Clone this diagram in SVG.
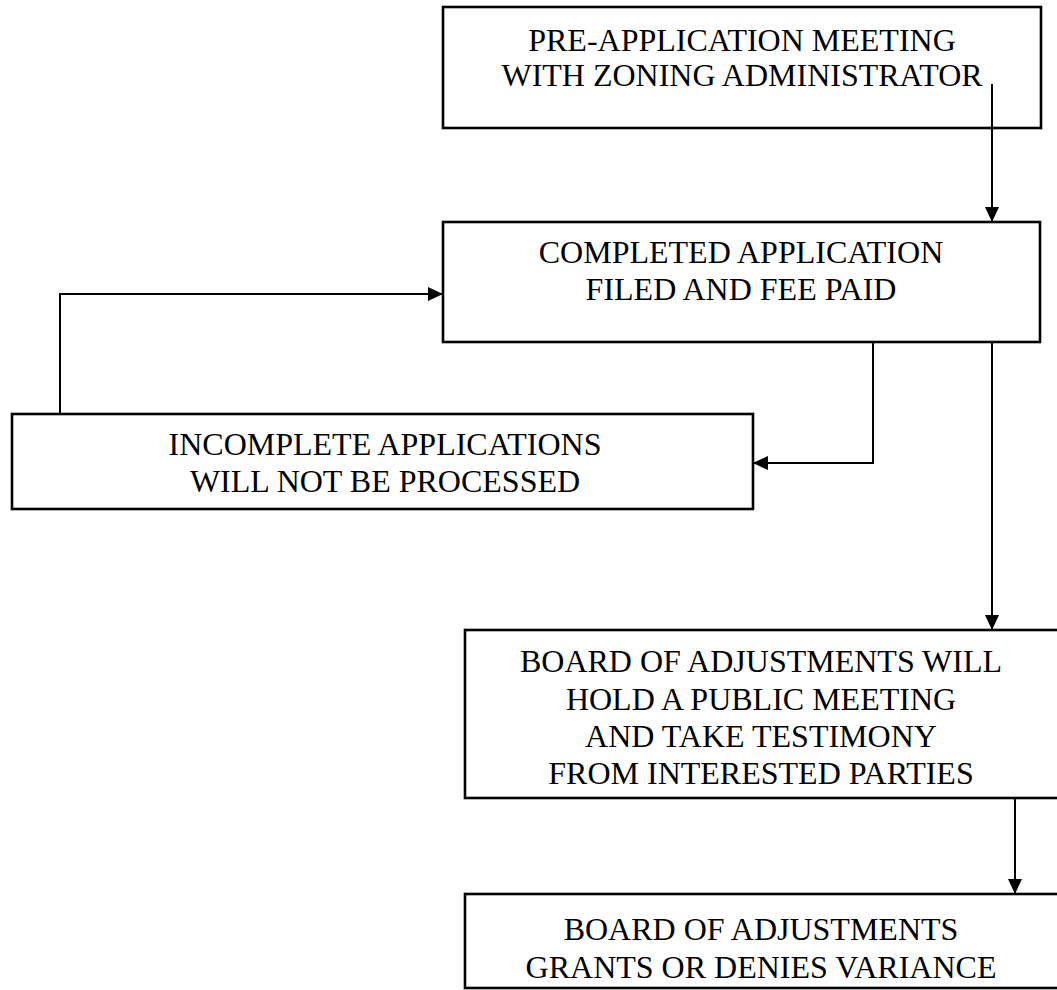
<svg xmlns="http://www.w3.org/2000/svg" width="1057" height="990" viewBox="0 0 1057 990">
  <defs>
    <style>
      .box { fill: #ffffff; stroke: #000000; stroke-width: 2.6; }
      .lbl { font-family: "Liberation Serif", "Times New Roman", serif; font-size: 32px; fill: #000000; text-anchor: middle; }
      .wire { fill: none; stroke: #000000; stroke-width: 2; }
    </style>
    <marker id="arrow" markerWidth="15" markerHeight="14" refX="15" refY="7" orient="auto" markerUnits="userSpaceOnUse">
      <path d="M0,0 L15,7 L0,14 Z" fill="#000000"/>
    </marker>
  </defs>

  <rect x="0" y="0" width="1057" height="990" fill="#ffffff"/>

  <!-- process steps -->
  <g id="pre-application">
    <rect class="box" x="443" y="7" width="598" height="121"/>
    <text class="lbl" x="742" y="51">PRE-APPLICATION MEETING</text>
    <text class="lbl" x="742" y="86">WITH ZONING ADMINISTRATOR</text>
  </g>

  <g id="application-filed">
    <rect class="box" x="443" y="222" width="597" height="120"/>
    <text class="lbl" x="741" y="263">COMPLETED APPLICATION</text>
    <text class="lbl" x="741" y="300">FILED AND FEE PAID</text>
  </g>

  <g id="incomplete">
    <rect class="box" x="12" y="414" width="741" height="95"/>
    <text class="lbl" x="385" y="455">INCOMPLETE APPLICATIONS</text>
    <text class="lbl" x="385" y="492">WILL NOT BE PROCESSED</text>
  </g>

  <g id="public-meeting">
    <rect class="box" x="465" y="630" width="600" height="168"/>
    <text class="lbl" x="761" y="672">BOARD OF ADJUSTMENTS WILL</text>
    <text class="lbl" x="761" y="710">HOLD A PUBLIC MEETING</text>
    <text class="lbl" x="761" y="747">AND TAKE TESTIMONY</text>
    <text class="lbl" x="761" y="784">FROM INTERESTED PARTIES</text>
  </g>

  <g id="decision">
    <rect class="box" x="465" y="894" width="600" height="94"/>
    <text class="lbl" x="761" y="940">BOARD OF ADJUSTMENTS</text>
    <text class="lbl" x="761" y="978">GRANTS OR DENIES VARIANCE</text>
  </g>

  <!-- flow lines -->
  <g id="connectors">
    <path class="wire" d="M992,84 L992,222" marker-end="url(#arrow)"/>
    <path class="wire" d="M60,414 L60,294 L443,294" marker-end="url(#arrow)"/>
    <path class="wire" d="M873,342 L873,463 L753,463" marker-end="url(#arrow)"/>
    <path class="wire" d="M992,342 L992,630" marker-end="url(#arrow)"/>
    <path class="wire" d="M1015,798 L1015,894" marker-end="url(#arrow)"/>
  </g>
</svg>
